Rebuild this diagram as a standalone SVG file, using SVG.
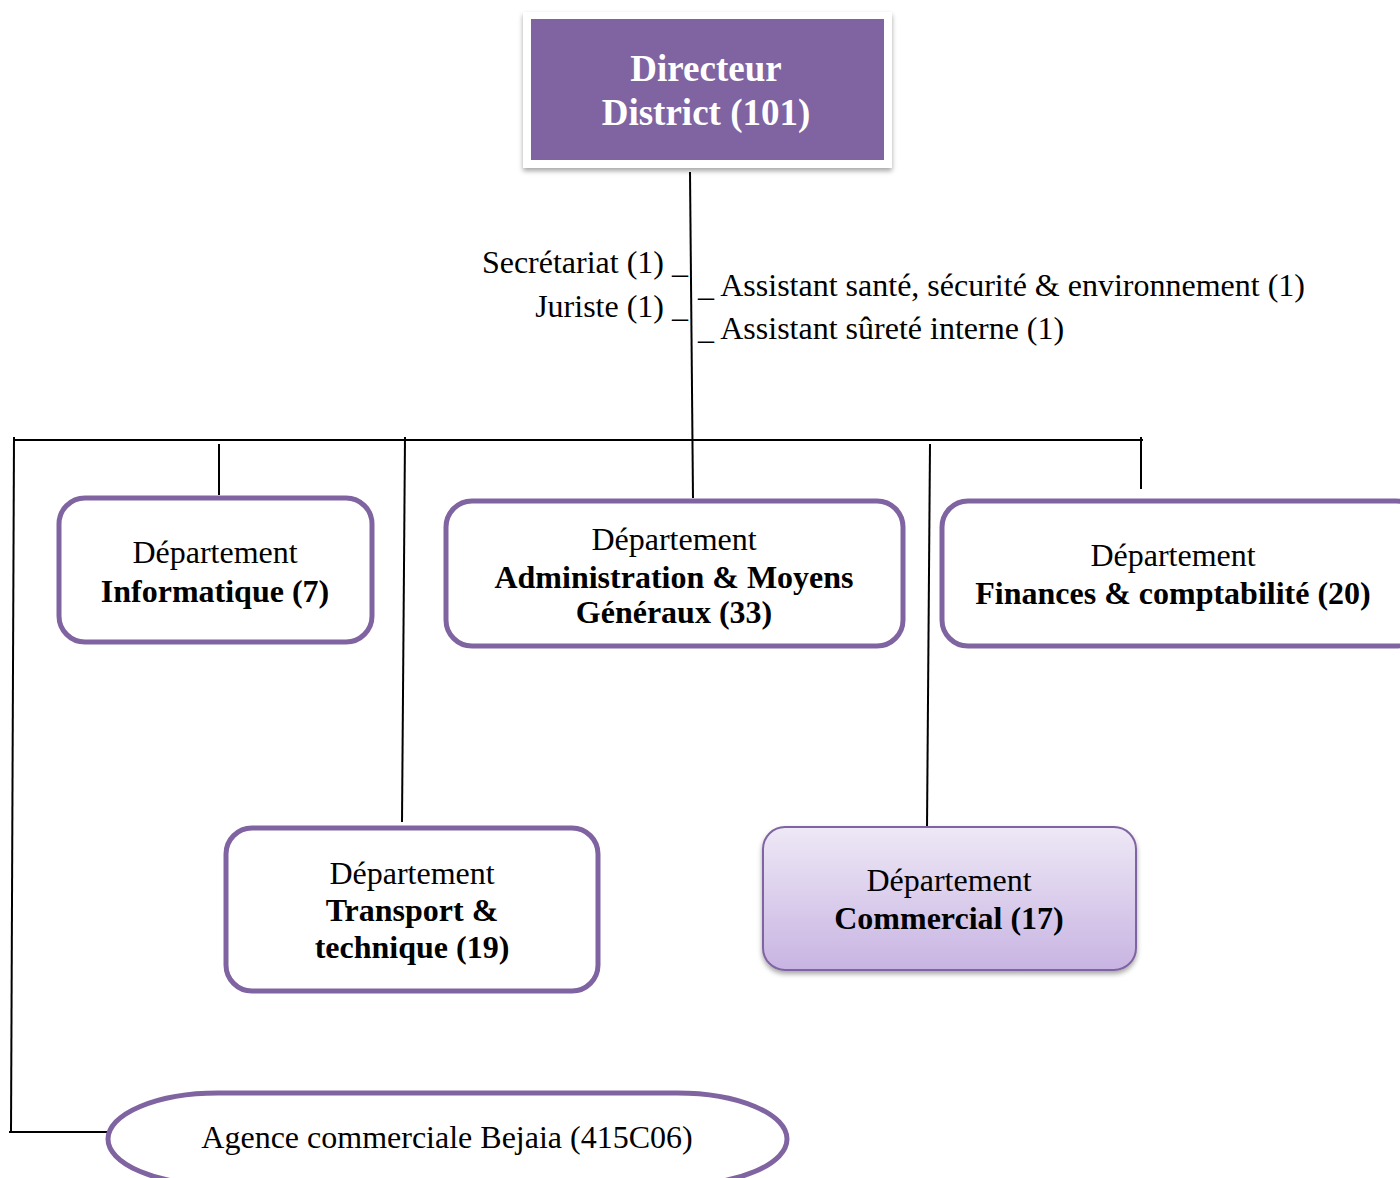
<svg xmlns="http://www.w3.org/2000/svg" width="1400" height="1178" viewBox="0 0 1400 1178">
<defs>
<linearGradient id="gc" x1="0" y1="0" x2="0" y2="1">
<stop offset="0" stop-color="#EEE8F6"/>
<stop offset="1" stop-color="#C8B4E2"/>
</linearGradient>
<filter id="sh" x="-10%" y="-10%" width="120%" height="130%">
<feDropShadow dx="0" dy="3" stdDeviation="2.5" flood-color="#000" flood-opacity="0.35"/>
</filter>
<style>
text{font-family:"Liberation Serif","Times New Roman",serif;fill:#000;text-anchor:middle;font-size:32px}
.b{font-weight:bold}
.w{fill:#fff;font-weight:bold;font-size:37px}
.l{text-anchor:start}
.r{text-anchor:end}
.box{fill:#fff;stroke:#8064A2;stroke-width:5}
.c{stroke:#000;stroke-width:2;fill:none}
</style>
</defs>
<rect width="1400" height="1178" fill="#fff"/>
<g id="connectors">
<line class="c" x1="690" y1="172" x2="693" y2="498"/>
<line class="c" x1="14" y1="440" x2="1143" y2="440"/>
<line class="c" x1="1141" y1="437" x2="1141" y2="489"/>
<line class="c" x1="219" y1="444" x2="219" y2="495"/>
<line class="c" x1="405" y1="437" x2="402" y2="822"/>
<line class="c" x1="930" y1="444" x2="927" y2="828"/>
<line class="c" x1="14" y1="437" x2="11" y2="1133"/>
<line class="c" x1="9" y1="1132" x2="108" y2="1132"/>
</g>
<g id="directeur">
<rect x="523" y="12" width="369" height="156" fill="#fff" filter="url(#sh)"/>
<rect x="531" y="19" width="353" height="141" fill="#8064A2"/>
<text class="w" x="706" y="81">Directeur</text>
<text class="w" x="706" y="125">District (101)</text>
</g>
<g id="staff">
<text class="r" x="688" y="273">Secrétariat (1) _</text>
<text class="r" x="688" y="317">Juriste (1) _</text>
<text class="l" x="698" y="296">_ Assistant santé, sécurité &amp; environnement (1)</text>
<text class="l" x="698" y="339">_ Assistant sûreté interne (1)</text>
</g>
<g id="informatique">
<rect class="box" x="59" y="498" width="313" height="144" rx="26"/>
<text x="215" y="563">Département</text>
<text class="b" x="215" y="602">Informatique (7)</text>
</g>
<g id="administration">
<rect class="box" x="446" y="501" width="457" height="145" rx="26"/>
<text x="674" y="550">Département</text>
<text class="b" x="674" y="588">Administration &amp; Moyens</text>
<text class="b" x="674" y="623">Généraux (33)</text>
</g>
<g id="finances">
<rect class="box" x="942" y="501" width="480" height="145" rx="26"/>
<text x="1173" y="566">Département</text>
<text class="b" x="1173" y="604">Finances &amp; comptabilité (20)</text>
</g>
<g id="transport">
<rect class="box" x="226" y="828" width="372" height="163" rx="26"/>
<text x="412" y="884">Département</text>
<text class="b" x="412" y="921">Transport &amp;</text>
<text class="b" x="412" y="958">technique (19)</text>
</g>
<g id="commercial">
<rect x="763" y="827" width="373" height="143" rx="22" fill="url(#gc)" stroke="#8064A2" stroke-width="2" filter="url(#sh)"/>
<text x="949" y="891">Département</text>
<text class="b" x="949" y="929">Commercial (17)</text>
</g>
<g id="agence">
<rect x="108" y="1093" width="679" height="92" rx="110" ry="46" fill="#fff" stroke="#8064A2" stroke-width="5"/>
<text x="447" y="1148">Agence commerciale Bejaia (415C06)</text>
</g>
</svg>
